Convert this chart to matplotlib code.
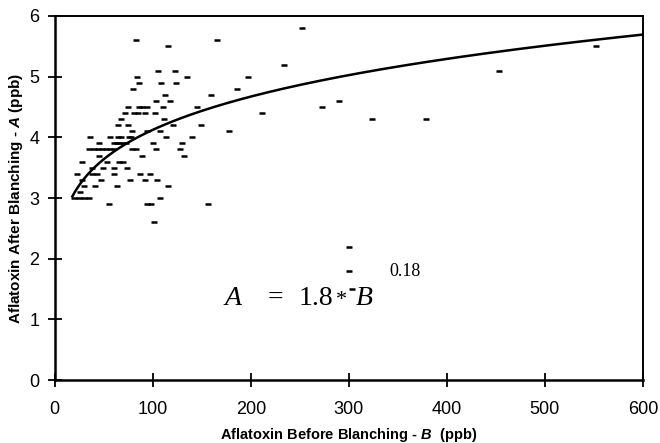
import matplotlib
matplotlib.use('Agg')
import matplotlib.pyplot as plt
import numpy as np

plt.rcParams['font.family'] = ['Liberation Sans', 'DejaVu Sans']
plt.rcParams['mathtext.fontset'] = 'custom'
plt.rcParams['mathtext.it'] = 'Liberation Sans:italic:bold'

# aflatoxin before (B) / after (A) blanching, grouped by A
rows = {
    5.8: [252],
    5.6: [83, 166],
    5.5: [116, 552],
    5.2: [234],
    5.1: [105, 123, 453],
    5.0: [84, 135, 197],
    4.9: [86, 108, 124],
    4.8: [80, 186],
    4.7: [112, 159],
    4.6: [103, 118, 290],
    4.5: [75, 86, 89, 94, 110, 145, 273],
    4.4: [72, 81, 85, 92, 102, 211],
    4.3: [68, 111, 324, 379],
    4.2: [65, 75, 121, 149],
    4.1: [79, 94, 107, 178],
    4.0: [36, 56, 64, 68, 76, 78, 113, 140],
    3.9: [45, 60, 63, 66, 70, 73, 100, 130],
    3.8: [35, 40, 44, 48, 52, 56, 60, 79, 83, 103, 128],
    3.7: [45, 89, 132],
    3.6: [28, 53, 66, 70],
    3.5: [38, 49, 60, 74],
    3.4: [23, 38, 43, 60, 87, 97],
    3.3: [28, 47, 77, 92, 104],
    3.2: [30, 41, 63, 116],
    3.1: [26],
    3.0: [20, 25, 30, 35, 107],
    2.9: [55, 94, 98, 156],
    2.6: [101],
    2.2: [300],
    1.8: [300],
    1.5: [303],
}
B = np.array([b for a, bs in rows.items() for b in bs], dtype=float)
A = np.array([a for a, bs in rows.items() for b in bs], dtype=float)

coef, expo = 1.8, 0.18
b_fit = np.linspace(18, 600, 300)
a_fit = coef * b_fit ** expo

fig = plt.figure(figsize=(6.6, 4.43), dpi=100)
ax = fig.add_axes([0.083, 0.142, 0.891, 0.822])

ax.plot(B, A, '_', color='black', ms=4, mew=1.8)
ax.plot(b_fit, a_fit, '-', color='black', lw=1.8)

ax.set_xlim(0, 600)
ax.set_ylim(0, 6)
ax.set_xticks(np.arange(0, 601, 100))
ax.set_yticks(np.arange(0, 7, 1))
ax.tick_params(direction='inout', length=10, width=1.3, labelsize=13, colors='black')
ax.tick_params(axis='x', pad=10)
ax.tick_params(axis='y', pad=6)
for s in ax.spines.values():
    s.set_linewidth(1.4)
ax.spines['left'].set_linewidth(1.8)
ax.spines['bottom'].set_linewidth(1.8)

ax.set_xlabel(r'Aflatoxin Before Blanching - $\mathit{B}$  (ppb)', fontsize=10.5,
              fontweight='bold', labelpad=6)
ax.set_ylabel(r'Aflatoxin After Blanching - $\mathit{A}$ (ppb)', fontsize=11,
              fontweight='bold', labelpad=3)

# equation
ser = ['Liberation Serif', 'DejaVu Serif']
ax.text(173, 1.24, 'A', fontsize=20, family=ser, style='italic', va='baseline')
ax.text(217, 1.24, '=', fontsize=20, family=ser, va='baseline')
ax.text(249, 1.24, '1.8', fontsize=20, family=ser, va='baseline')
ax.text(287, 1.24, '*', fontsize=16, family=ser, va='baseline')
ax.text(307, 1.24, 'B', fontsize=20, family=ser, style='italic', va='baseline')
ax.text(341, 1.72, '0.18', fontsize=13, family=ser, va='baseline')

fig.savefig('out.png', dpi=100)
